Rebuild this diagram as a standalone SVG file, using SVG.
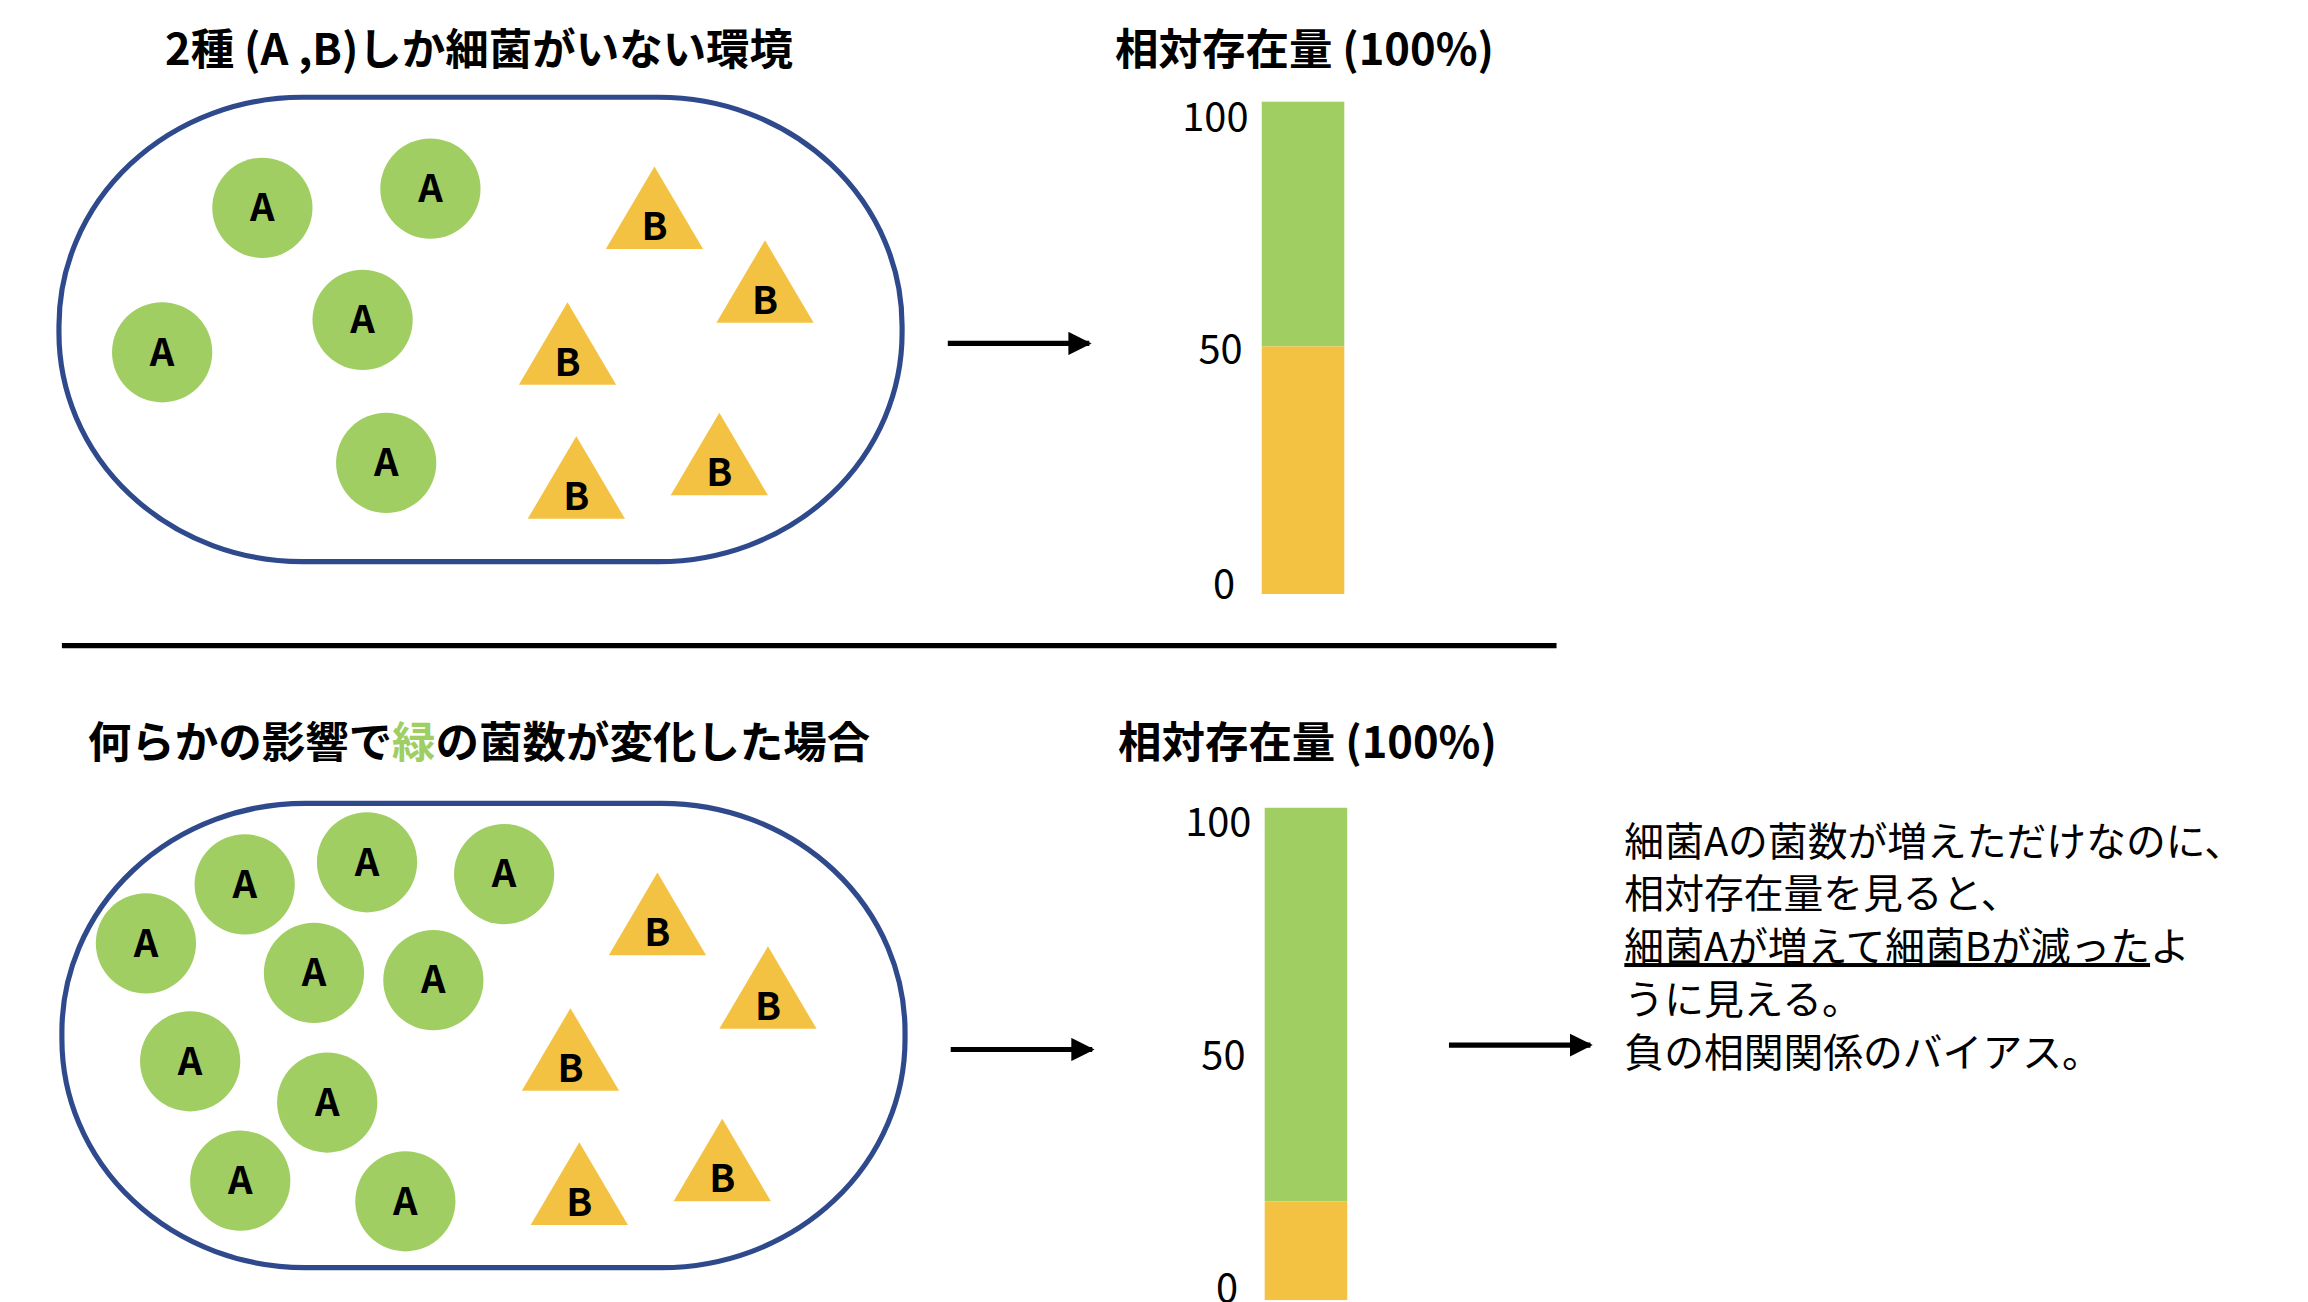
<svg xmlns="http://www.w3.org/2000/svg" width="2308" height="1302" viewBox="0 0 2308 1302">
<style>
text{font-family:"Noto Sans CJK JP","Noto Sans",sans-serif;fill:#000}
.t{font-size:29.5px;font-weight:bold;text-anchor:middle}
.l{font-size:26px;font-weight:bold;text-anchor:middle}
.n{font-size:27px;text-anchor:end}
.r{font-size:27px}
.box{fill:#fff;stroke:#2F4A8C;stroke-width:3.5}
.a{fill:#A0CE63}
.b{fill:#F4C243}
.ln{stroke:#000;stroke-width:3.5;fill:none}
</style>
<defs>
<marker id="ah" viewBox="0 0 10 10" refX="9" refY="5" markerWidth="4.5" markerHeight="4.5" orient="auto" markerUnits="strokeWidth"><path d="M0,0L10,5L0,10z" fill="#000"/></marker>
<g id="ca"><circle r="34" class="a"/><text class="l" y="9">A</text></g>
<g id="tb"><path d="M0,0L33,56L-33,56z" class="b"/><text class="l" y="50">B</text></g>
</defs>
<rect width="2308" height="1302" fill="#fff"/>
<g transform="scale(1.474)">
<g id="top">
<text class="t" x="325" y="44">2種 (A ,B)しか細菌がいない環境</text>
<rect class="box" x="40" y="66" width="572" height="315" rx="165" ry="155"/>
<use href="#ca" x="178" y="141"/><use href="#ca" x="292" y="128"/><use href="#ca" x="110" y="239"/><use href="#ca" x="246" y="217"/><use href="#ca" x="262" y="314"/>
<use href="#tb" x="444" y="113"/><use href="#tb" x="519" y="163"/><use href="#tb" x="385" y="205"/><use href="#tb" x="391" y="296"/><use href="#tb" x="488" y="280"/>
</g>
<g id="topbar">
<text class="t" x="885" y="44">相対存在量 (100%)</text>
<rect x="856" y="69" width="56" height="166" class="a"/>
<rect x="856" y="235" width="56" height="168" class="b"/>
<text class="n" x="847" y="89">100</text><text class="n" x="843" y="246">50</text><text class="n" x="838" y="406">0</text>
</g>
<g id="bottom">
<text class="t" x="325" y="514">何らかの影響で<tspan fill="#A0CE63">緑</tspan>の菌数が変化した場合</text>
<rect class="box" x="42" y="545" width="572" height="315" rx="165" ry="155"/>
<use href="#ca" x="166" y="600"/><use href="#ca" x="249" y="585"/><use href="#ca" x="342" y="593"/><use href="#ca" x="99" y="640"/><use href="#ca" x="213" y="660"/><use href="#ca" x="294" y="665"/><use href="#ca" x="129" y="720"/><use href="#ca" x="222" y="748"/><use href="#ca" x="163" y="801"/><use href="#ca" x="275" y="815"/>
<use href="#tb" x="446" y="592"/><use href="#tb" x="521" y="642"/><use href="#tb" x="387" y="684"/><use href="#tb" x="393" y="775"/><use href="#tb" x="490" y="759"/>
</g>
<g id="bottombar">
<text class="t" x="887" y="514">相対存在量 (100%)</text>
<rect x="858" y="548" width="56" height="267" class="a"/>
<rect x="858" y="815" width="56" height="67" class="b"/>
<text class="n" x="849" y="567">100</text><text class="n" x="845" y="725">50</text><text class="n" x="840" y="883">0</text>
</g>
<g id="note">
<text class="r" x="1102" y="581">細菌Aの菌数が増えただけなのに、</text>
<text class="r" x="1102" y="616">相対存在量を見ると、</text>
<text class="r" x="1102" y="652"><tspan text-decoration="underline">細菌Aが増えて細菌Bが減った</tspan>よ</text>
<text class="r" x="1102" y="688">うに見える。</text>
<text class="r" x="1102" y="724">負の相関関係のバイアス。</text>
</g>
<g id="connectors">
<line class="ln" x1="42" y1="438" x2="1056" y2="438" stroke-width="2.5"/>
<line class="ln" x1="643" y1="233" x2="739" y2="233" marker-end="url(#ah)"/>
<line class="ln" x1="645" y1="712" x2="741" y2="712" marker-end="url(#ah)"/>
<line class="ln" x1="983" y1="709" x2="1079" y2="709" marker-end="url(#ah)"/>
</g>
</g>
</svg>
